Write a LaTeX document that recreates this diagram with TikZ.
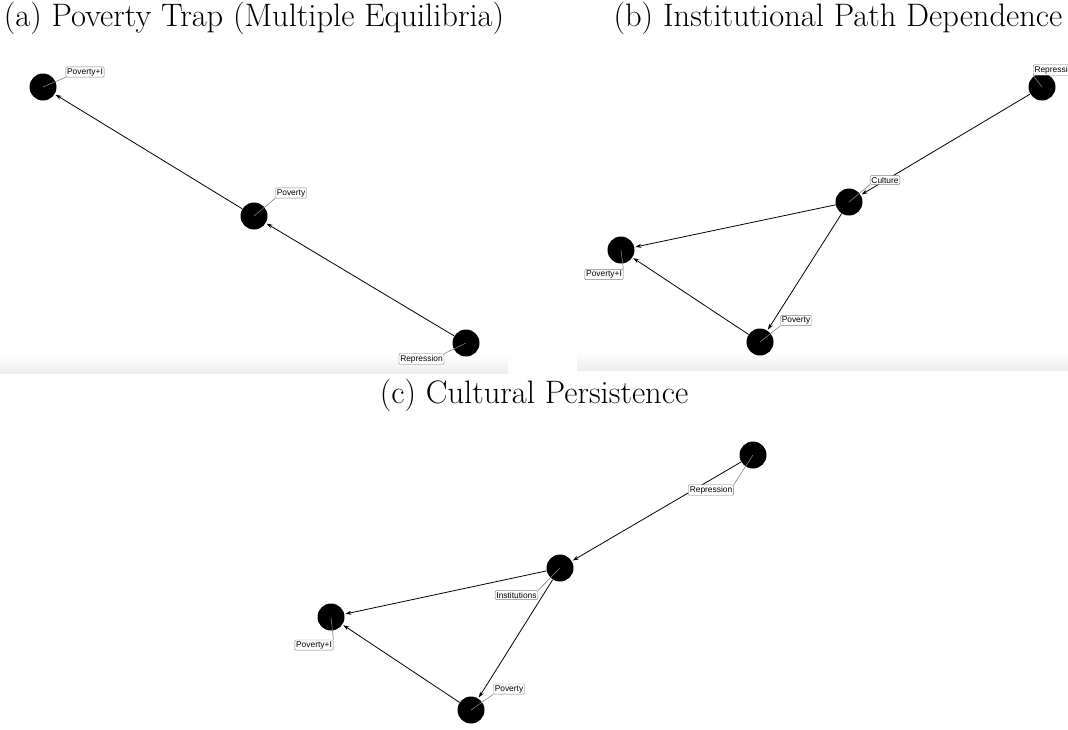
\documentclass[tikz,border=0pt]{standalone}
\usepackage{fontspec}
\newfontfamily\lblfont{Liberation Sans}
\usetikzlibrary{arrows.meta}
\tikzset{
  dot/.style={circle,fill=black,draw=none,minimum size=27pt,inner sep=0pt},
  lbl/.style={draw=gray,fill=white,rounded corners=1pt,inner sep=1.3pt,font=\lblfont\fontsize{8.4}{9.5}\selectfont},
  edge/.style={-{Stealth[length=6pt,width=4pt]},line width=0.8pt,shorten >=1pt},
  lead/.style={gray,line width=0.6pt},
  ttl/.style={font=\fontsize{32.5}{38}\selectfont,inner sep=0pt}
}
\begin{document}
\begin{tikzpicture}[x=1pt,y=-1pt]
\useasboundingbox (0,0) rectangle (1068,729);
% panel shadows
\shade[top color=white,bottom color=gray!14] (0,355) rectangle (508,373);
\shade[top color=white,bottom color=gray!14] (577,352) rectangle (1068,370);
% titles
\node[ttl] (ta) at (254,18) {(a) Poverty Trap (Multiple Equilibria)};
\node[ttl] (tb) at (838,18) {(b) Institutional Path Dependence};
\node[ttl] (tc) at (534,395) {(c) Cultural Persistence};
% panel (a)
\node[dot] (a1) at (43,87) {};
\node[dot] (a2) at (254,216) {};
\node[dot] (a3) at (466,343) {};
\draw[edge] (a3) -- (a2);
\draw[edge] (a2) -- (a1);
\node[lbl] (la1) at (85,72) {Poverty+I};
\node[lbl] (la2) at (291,193) {Poverty};
\node[lbl] (la3) at (421.5,359) {Repression};
\draw[lead] (a1.center) -- (la1.south west);
\draw[lead] (a2.center) -- (la2.south west);
\draw[lead] (a3.center) -- (la3.north east);
% panel (b)
\node[dot] (b1) at (1042,87) {};
\node[dot] (b2) at (849,202) {};
\node[dot] (b3) at (621,250) {};
\node[dot] (b4) at (760,342) {};
\draw[edge] (b1) -- (b2);
\draw[edge] (b2) -- (b3);
\draw[edge] (b2) -- (b4);
\draw[edge] (b4) -- (b3);
\node[lbl,anchor=west] (lb1) at (1033,70) {Repression};
\node[lbl] (lb2) at (885,180) {Culture};
\node[lbl] (lb3) at (604,274.5) {Poverty+I};
\node[lbl] (lb4) at (796,320.5) {Poverty};
\draw[lead] (b1.center) -- (lb1.south west);
\draw[lead] (b2.center) -- (lb2.south west);
\draw[lead] (b3.center) -- (lb3.north east);
\draw[lead] (b4.center) -- (lb4.south west);
% panel (c)
\node[dot] (c1) at (753,455) {};
\node[dot] (c2) at (560,568) {};
\node[dot] (c3) at (331,617) {};
\node[dot] (c4) at (471,710) {};
\draw[edge] (c1) -- (c2);
\draw[edge] (c2) -- (c3);
\draw[edge] (c2) -- (c4);
\draw[edge] (c4) -- (c3);
\node[lbl] (lc1) at (711,490) {Repression};
\node[lbl] (lc2) at (516.5,595) {Institutions};
\node[lbl] (lc3) at (314,645) {Poverty+I};
\node[lbl] (lc4) at (509,689) {Poverty};
\draw[lead] (c1.center) -- (lc1.north east);
\draw[lead] (c2.center) -- (lc2.north east);
\draw[lead] (c3.center) -- (lc3.north east);
\draw[lead] (c4.center) -- (lc4.south west);
\end{tikzpicture}
\end{document}
